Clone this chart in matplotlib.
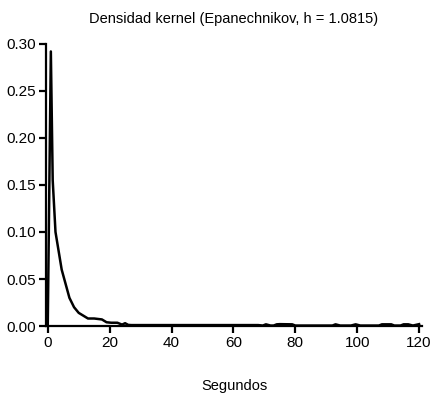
import matplotlib
matplotlib.use('Agg')
from matplotlib import pyplot as plt

plt.rcParams['font.family'] = ['Liberation Sans', 'DejaVu Sans']

# density (seconds, density)
seconds = [0, 1, 1.6, 2.5, 3.5, 4.5, 5.5, 7, 8.5, 10, 11.5, 13, 15, 17.5,
           19, 20.5, 22.5, 24, 25, 26, 27, 30, 40, 50, 60, 68, 69.5, 70.5,
           72, 73, 74, 75, 79, 80, 85, 92, 93, 94.5, 98, 99.5, 101, 107,
           108, 111, 112, 114, 115, 116.5, 118, 120]
density = [0.0, 0.292, 0.155, 0.1, 0.08, 0.06, 0.048, 0.03, 0.02, 0.014,
           0.011, 0.008, 0.008, 0.007, 0.004, 0.0035, 0.0035, 0.0015, 0.003, 0.0012,
           0.001, 0.001, 0.001, 0.001, 0.001, 0.001, 0.0005, 0.0018, 0.0005,
           0.0005, 0.0018, 0.002, 0.0018, 0.0005, 0.0005, 0.0005, 0.0018, 0.0005,
           0.0005, 0.0018, 0.0005, 0.0005, 0.0018, 0.0018, 0.0005, 0.0005,
           0.0018, 0.0018, 0.0005, 0.002]

fig = plt.figure(figsize=(4.33, 4.03), dpi=100)
ax = fig.add_axes([0.106, 0.191, 0.869, 0.70])
ax.plot(seconds, density, color='black', lw=1.8)

ax.set_xlim(-0.6, 121)
ax.set_ylim(0, 0.30)
ax.set_xticks([0, 20, 40, 60, 80, 100, 120])
ax.set_yticks([0, 0.05, 0.10, 0.15, 0.20, 0.25, 0.30])
ax.set_yticklabels(['0.00', '0.05', '0.10', '0.15', '0.20', '0.25', '0.30'])
for side in ['top', 'right']:
    ax.spines[side].set_visible(False)
for side in ['left', 'bottom']:
    ax.spines[side].set_linewidth(1.6)
ax.tick_params(width=1.6, length=5, labelsize=11, pad=2)
ax.set_xlabel('Segundos', fontsize=10.5, labelpad=21)
ax.set_title('Densidad kernel (Epanechnikov, h = 1.0815)', fontsize=10.5, pad=15)

fig.savefig('out.png', dpi=100)
